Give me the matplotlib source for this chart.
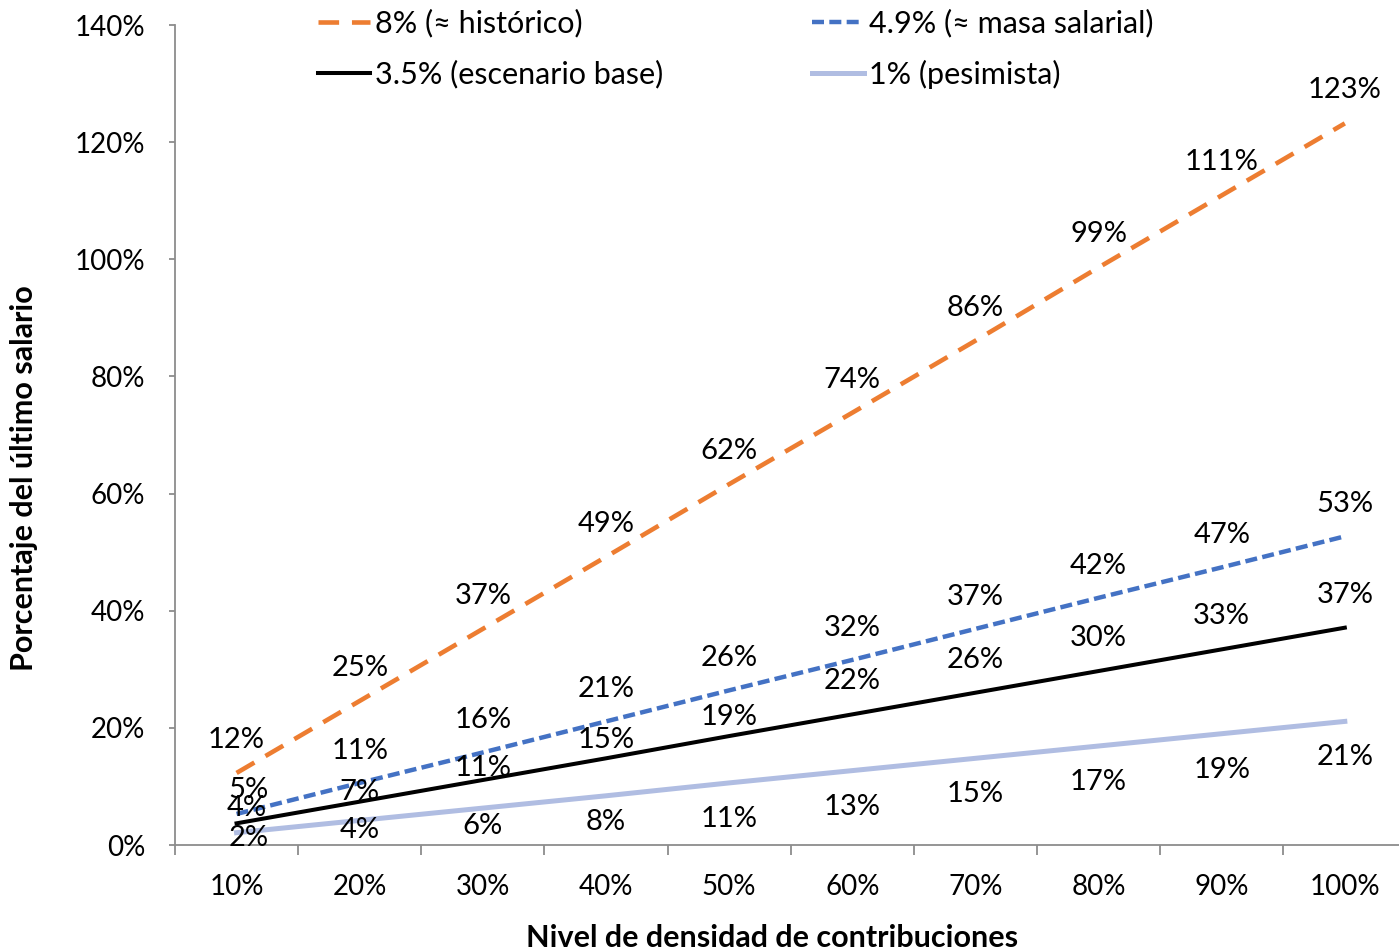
import numpy as np
import matplotlib.pyplot as plt
from matplotlib.ticker import FixedLocator, FuncFormatter

plt.rcParams['font.family'] = ['Lato', 'DejaVu Sans']

categorias = ['10%', '20%', '30%', '40%', '50%', '60%', '70%', '80%', '90%', '100%']
historico = [12.3, 24.6, 36.9, 49.2, 61.6, 73.8, 86.1, 98.6, 110.9, 123.2]
masa_salarial = [5.3, 10.6, 15.8, 21.1, 26.4, 31.6, 36.9, 42.2, 47.4, 52.7]
base = [3.7, 7.4, 11.1, 14.8, 18.6, 22.3, 26.0, 29.7, 33.4, 37.1]
pesimista = [2.1, 4.2, 6.3, 8.4, 10.6, 12.7, 14.8, 16.9, 19.0, 21.1]

nombres = ['8% (≈ histórico)', '4.9% (≈ masa salarial)',
           '3.5% (escenario base)', '1% (pesimista)']

# label offsets in pixels (dx, dy), like the excel layout
off_hist = [(0, 33)] * 10
off_masa = [(12, 24)] + [(0, 32)] * 9
off_base = [(10, 15), (0, 10), (0, 12), (0, 18), (0, 19)] + [(0, 33)] * 5
off_pes = [(12, -5), (0, -10), (0, -18), (0, -26)] + [(0, -36)] * 6

fig = plt.figure(figsize=(13.99, 9.5), dpi=100)
ax = fig.add_axes([175/1399, 1-845/950, 1-175/1399, (845-25)/950])

x = np.arange(len(categorias))
l1, = ax.plot(x, historico, color='#ED7D31', lw=3.3, dashes=(4.5, 2.8))
l2, = ax.plot(x, masa_salarial, color='#4472C4', lw=3.2, dashes=(2.7, 1.2))
l3, = ax.plot(x, base, color='black', lw=2.9)
l4, = ax.plot(x, pesimista, color='#B0BDE2', lw=3.6)

px = 72 / 100
for vals, offs in [(historico, off_hist), (masa_salarial, off_masa),
                   (base, off_base), (pesimista, off_pes)]:
    for i, v in enumerate(vals):
        dx, dy = offs[i]
        ax.annotate(f'{round(v)}%', (x[i], v), xytext=(dx*px, dy*px),
                    textcoords='offset points', ha='center', va='center',
                    fontsize=21, color='black')

ax.set_xlim(-0.5, 9.44)
ax.set_ylim(0, 140)
ax.yaxis.set_major_locator(FixedLocator(np.arange(0, 141, 20)))
ax.yaxis.set_major_formatter(FuncFormatter(lambda v, p: f'{v:.0f}%'))
ax.xaxis.set_major_locator(FixedLocator(np.arange(-0.5, 9.0, 1)))
ax.xaxis.set_major_formatter(FuncFormatter(lambda v, p: ''))
ax.xaxis.set_minor_locator(FixedLocator(x))
ax.set_xticklabels(categorias, minor=True)
ax.tick_params(axis='x', which='major', length=7, width=1.3, color='#8C8C8C')
ax.tick_params(axis='x', which='minor', length=0, pad=21, labelsize=20)
ax.tick_params(axis='y', length=4.5, width=1.3, color='#8C8C8C', pad=17, labelsize=20)

for s in ['top', 'right']:
    ax.spines[s].set_visible(False)
for s in ['left', 'bottom']:
    ax.spines[s].set_color('#8C8C8C')
    ax.spines[s].set_linewidth(1.3)

ax.set_xlabel('Nivel de densidad de contribuciones', fontsize=22, fontweight='bold')
ax.xaxis.set_label_coords(0.488, -0.096)
ax.set_ylabel('Porcentaje del último salario', fontsize=22, fontweight='bold')
ax.yaxis.set_label_coords(-0.112, 0.4476)

fig.legend([l1, l3, l2, l4], [nombres[0], nombres[2], nombres[1], nombres[3]],
           ncol=2, loc='upper left',
           bbox_to_anchor=(318/1399, 1-9/950), frameon=False, fontsize=22,
           handlelength=1.7, handletextpad=0.17, columnspacing=4.85,
           labelspacing=0.72, borderpad=0, borderaxespad=0)

fig.savefig('out.png', dpi=100)
